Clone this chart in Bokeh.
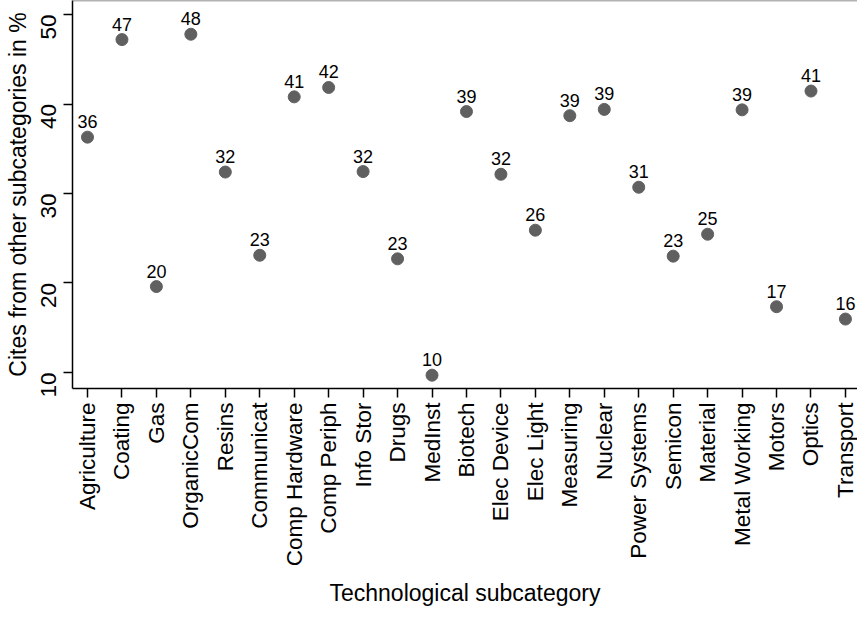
import math
from bokeh.plotting import figure
from bokeh.models import Range1d, FixedTicker, Span, ColumnDataSource, LabelSet
from bokeh.core.properties import value
from bokeh.embed import file_html
from bokeh.resources import INLINE

categories = ["Agriculture", "Coating", "Gas", "OrganicCom", "Resins", "Communicat",
              "Comp Hardware", "Comp Periph", "Info Stor", "Drugs", "MedInst", "Biotech",
              "Elec Device", "Elec Light", "Measuring", "Nuclear", "Power Systems",
              "Semicon", "Material", "Metal Working", "Motors", "Optics", "Transport"]
values = [36.3, 47.2, 19.6, 47.8, 32.4, 23.1, 40.8, 41.85, 32.45, 22.7, 9.7, 39.16,
          32.15, 25.9, 38.7, 39.4, 30.7, 23.0, 25.45, 39.35, 17.35, 41.45, 15.97]
labels = ["36", "47", "20", "48", "32", "23", "41", "42", "32", "23", "10", "39",
          "32", "26", "39", "39", "31", "23", "25", "39", "17", "41", "16"]
y_ticks = [10, 20, 30, 40, 50]

positions = list(range(1, len(categories) + 1))
src = ColumnDataSource(dict(x=positions, y=values, label=labels))

FONT = "Liberation Sans"
Y_TOP = 51.57

p = figure(width=857, height=609, output_backend="svg", toolbar_location=None,
           x_range=Range1d(0.5646, 23.35), y_range=Range1d(8.21, Y_TOP),
           min_border_left=72, min_border_top=0, min_border_right=0, min_border_bottom=0)
p.outline_line_color = None
p.xgrid.visible = False
p.ygrid.visible = False
p.background_fill_color = "white"
p.border_fill_color = "white"

p.scatter("x", "y", source=src, size=12, fill_color="#606060", line_color="#606060")
p.add_layout(LabelSet(x="x", y="y", text="label", source=src, text_align="center",
                      text_baseline="alphabetic", y_offset=9, text_font=value(FONT),
                      text_font_size="18px", text_color="black"))

p.add_layout(Span(location=Y_TOP, dimension="width", line_color="#666666", line_width=1.5))

for ax in (p.xaxis[0], p.yaxis[0]):
    ax.axis_line_color = "black"
    ax.axis_line_width = 1.5
    ax.major_tick_line_color = "black"
    ax.major_tick_line_width = 1.5
    ax.major_tick_out = 9
    ax.major_tick_in = 0
    ax.minor_tick_out = 0
    ax.minor_tick_in = 0
    ax.major_label_text_font = FONT
    ax.major_label_text_font_size = "22.5px"
    ax.major_label_text_color = "black"
    ax.axis_label_text_font = FONT
    ax.axis_label_text_font_size = "23px"
    ax.axis_label_text_font_style = "normal"
    ax.axis_label_text_color = "black"

p.xaxis.ticker = FixedTicker(ticks=positions)
p.xaxis.major_label_overrides = {i: c for i, c in zip(positions, categories)}
p.xaxis.major_label_orientation = math.pi / 2
p.xaxis.major_label_standoff = 5
p.xaxis.axis_label = "Technological subcategory"
p.xaxis.axis_label_standoff = 11

p.yaxis.ticker = FixedTicker(ticks=y_ticks)
p.yaxis.major_label_orientation = math.pi / 2
p.yaxis.major_label_standoff = 15
p.yaxis.axis_label = "Cites from other subcategories in %"
p.yaxis.axis_label_standoff = 0

open("out.html", "w").write(file_html(p, INLINE))
